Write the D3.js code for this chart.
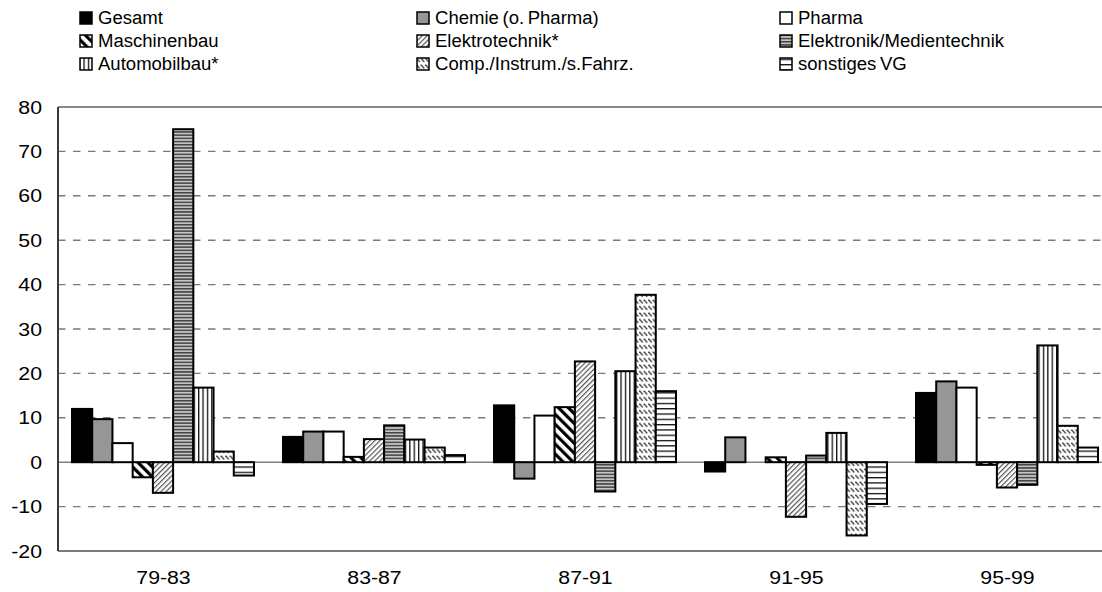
<!DOCTYPE html>
<html>
<head>
<meta charset="utf-8">
<script src="https://cdn.jsdelivr.net/npm/d3@7"></script>
<style>
  html, body { margin: 0; padding: 0; background: #fff; }
  svg { display: block; font-family: "Liberation Sans", Arial, sans-serif; }
</style>
</head>
<body>
<svg id="chart" width="1102" height="592"></svg>
<script>
// Periods on the x axis
const periods = ["79-83", "83-87", "87-91", "91-95", "95-99"];

// Sectors (legend order)
const sectors = [
  "Gesamt", "Chemie (o. Pharma)", "Pharma",
  "Maschinenbau", "Elektrotechnik*", "Elektronik/Medientechnik",
  "Automobilbau*", "Comp./Instrum./s.Fahrz.", "sonstiges VG"
];

// Values per sector, one entry per period
const gesamt         = [12.0, 5.7, 12.8, -2.1, 15.6];
const chemie         = [9.7, 6.9, -3.7, 5.6, 18.2];
const pharma         = [4.3, 6.9, 10.5, 0.0, 16.8];
const maschinenbau   = [-3.4, 1.2, 12.4, 1.1, -0.6];
const elektrotechnik = [-6.9, 5.2, 22.7, -12.3, -5.7];
const elektronik     = [75.0, 8.3, -6.6, 1.5, -5.1];
const automobilbau   = [16.8, 5.1, 20.5, 6.6, 26.3];
const compInstrum    = [2.4, 3.3, 37.7, -16.5, 8.2];
const sonstigesVG    = [-3.0, 1.6, 16.0, -9.4, 3.3];

const seriesValues = [gesamt, chemie, pharma, maschinenbau, elektrotechnik,
                      elektronik, automobilbau, compInstrum, sonstigesVG];

// y axis ticks
const yTicks = [-20, -10, 0, 10, 20, 30, 40, 50, 60, 70, 80];

const svg = d3.select("#chart");
const defs = svg.append("defs");

// ---- fill patterns ----
function pat(id, w, h, transform, bg) {
  const p = defs.append("pattern")
    .attr("id", id).attr("patternUnits", "userSpaceOnUse")
    .attr("width", w).attr("height", h);
  if (transform) p.attr("patternTransform", transform);
  p.append("rect").attr("width", w).attr("height", h).attr("fill", bg || "#fff");
  return p;
}
// Maschinenbau: bold back-diagonal stripes
pat("p-masch", 7, 7, "rotate(-45)").append("rect")
  .attr("x", 0).attr("y", 0).attr("width", 3.2).attr("height", 7).attr("fill", "#000");
// Elektrotechnik: fine forward diagonals
pat("p-elektro", 3.6, 4, "rotate(45)").append("rect")
  .attr("x", 0).attr("y", 0).attr("width", 1.2).attr("height", 4).attr("fill", "#555");
// Elektronik: dense horizontal stripes
pat("p-elektronik", 6, 3.2, null, "#c4c4c4").append("rect")
  .attr("x", 0).attr("y", 0).attr("width", 6).attr("height", 1.5).attr("fill", "#444");
// Automobilbau: vertical lines
pat("p-auto", 4.4, 6).append("rect")
  .attr("x", 0).attr("y", 0).attr("width", 1.3).attr("height", 6).attr("fill", "#111");
// Comp./Instrum.: short dashed back-diagonals
const pc = pat("p-comp", 4.5, 6.5);
pc.append("line").attr("x1", 0.4).attr("y1", 0.6).attr("x2", 3.8).attr("y2", 4.4)
  .attr("stroke", "#333").attr("stroke-width", 1.3);
// sonstiges VG: sparse horizontal lines
pat("p-sonst", 6, 5.3).append("rect")
  .attr("x", 0).attr("y", 0).attr("width", 6).attr("height", 1.3).attr("fill", "#111");

const fills = ["#000", "#969696", "#fff", "url(#p-masch)", "url(#p-elektro)",
               "url(#p-elektronik)", "url(#p-auto)", "url(#p-comp)", "url(#p-sonst)"];

// ---- layout ----
const plotLeft = 58, plotTop = 107, plotBottom = 551;
const step = 211;
const plotRight = plotLeft + step * periods.length;

const x0 = d3.scaleBand().domain(periods).range([plotLeft, plotRight]).paddingInner(0).paddingOuter(0);
const x1 = d3.scaleBand().domain(d3.range(sectors.length)).range([14, 14 + 182]).padding(0);
const y = d3.scaleLinear().domain([-20, 80]).range([plotBottom, plotTop]);

const SX = 1.15;    // horizontal stretch of the axis lettering
const LSX = 1.03;   // horizontal stretch of the legend lettering

// grid lines (dashed)
svg.append("g").selectAll("line")
  .data(yTicks.filter(t => t !== 0 && t !== -20 && t !== 80))
  .join("line")
  .attr("x1", plotLeft).attr("x2", 1102)
  .attr("y1", d => y(d)).attr("y2", d => y(d))
  .attr("stroke", "#7a7a7a").attr("stroke-width", 1.4)
  .attr("stroke-dasharray", "7.5,7.5");

// top and bottom frame
svg.append("line").attr("x1", plotLeft).attr("x2", 1102)
  .attr("y1", y(80)).attr("y2", y(80)).attr("stroke", "#8a8a8a").attr("stroke-width", 2);
svg.append("line").attr("x1", plotLeft).attr("x2", 1102)
  .attr("y1", y(-20)).attr("y2", y(-20)).attr("stroke", "#7a7a7a").attr("stroke-width", 2);

// zero line
svg.append("line").attr("x1", plotLeft).attr("x2", 1102)
  .attr("y1", y(0)).attr("y2", y(0)).attr("stroke", "#808080").attr("stroke-width", 1.5);

// bars
const rows = [];
seriesValues.forEach((vals, si) => vals.forEach((v, pi) => rows.push({ si, period: periods[pi], v })));

svg.append("g").selectAll("rect")
  .data(rows.filter(d => d.v !== 0))
  .join("rect")
  .attr("x", d => x0(d.period) + x1(d.si))
  .attr("width", x1.bandwidth())
  .attr("y", d => y(Math.max(0, d.v)))
  .attr("height", d => Math.abs(y(d.v) - y(0)))
  .attr("fill", d => fills[d.si])
  .attr("stroke", "#000").attr("stroke-width", 2);

// left axis line
svg.append("line").attr("x1", plotLeft).attr("x2", plotLeft)
  .attr("y1", plotTop).attr("y2", plotBottom).attr("stroke", "#3a3a3a").attr("stroke-width", 2);

// y tick labels
svg.append("g").selectAll("text").data(yTicks).join("text")
  .attr("transform", d => `translate(42,${y(d)}) scale(${SX},1)`)
  .attr("text-anchor", "end").attr("dy", "0.36em")
  .attr("font-size", 18.5).attr("fill", "#000")
  .text(d => d);

// x labels
svg.append("g").selectAll("text").data(periods).join("text")
  .attr("transform", d => `translate(${x0(d) + x0.bandwidth() / 2},577) scale(${SX},1)`)
  .attr("text-anchor", "middle").attr("dy", "0.36em")
  .attr("font-size", 18.5).attr("fill", "#000")
  .text(d => d);

// legend (3 columns x 3 rows)
const legCols = [79, 416, 779];
const legRows = [18, 41, 64];
const leg = svg.append("g").selectAll("g").data(sectors).join("g")
  .attr("transform", (d, i) => `translate(${legCols[i % 3]},${legRows[Math.floor(i / 3)]})`);
leg.append("rect")
  .attr("x", 1).attr("y", -6).attr("width", 12).attr("height", 12)
  .attr("fill", (d, i) => fills[i]).attr("stroke", "#000").attr("stroke-width", 1.5);
leg.append("text")
  .attr("transform", `translate(19,0) scale(${LSX},1)`)
  .attr("dy", "0.36em").attr("font-size", 18).attr("fill", "#000")
  .attr("word-spacing", -1.5)
  .text(d => d);
</script>
</body>
</html>
